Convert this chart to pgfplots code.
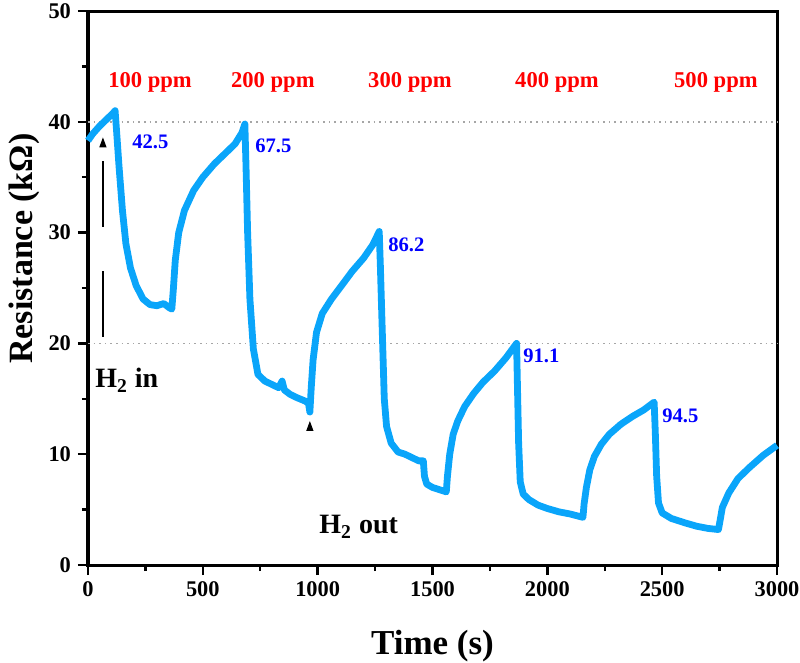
\documentclass[border=0pt]{standalone}
\usepackage{pgfplots}
\pgfplotsset{compat=1.18}
\usepackage{fontspec}
\setmainfont{Liberation Serif}
\usetikzlibrary{arrows.meta}
\definecolor{curve}{RGB}{10,165,250}
\definecolor{ppmred}{RGB}{255,0,0}
\definecolor{valblue}{RGB}{0,0,255}
\begin{document}
\begin{tikzpicture}
\begin{axis}[
  scale only axis, width=344.5pt, height=277pt,
  xmin=0, xmax=3000, ymin=0, ymax=50,
  xtick={0,500,...,3000}, ytick={0,10,...,50},
  minor x tick num=1, minor y tick num=1,
  tick align=outside, tick pos=left,
  major tick length=5pt, minor tick length=3pt,
  axis line style={line width=1.5pt},
  every tick/.style={line width=1.2pt, black},
  ticklabel style={font=\bfseries\fontsize{11.2}{12}\selectfont},
  /pgf/number format/assume math mode=true,
  /pgf/number format/1000 sep={},
  xlabel={Time (s)}, ylabel={Resistance (kΩ)},
  x label style={font=\bfseries\fontsize{17.5}{20}\selectfont, at={(axis description cs:0.5,0)}, anchor=base, yshift=-44.5pt},
  y label style={font=\bfseries\fontsize{17}{20}\selectfont, at={(axis description cs:0,0.571)}, anchor=base, yshift=27.5pt},
  clip=false,
]
% reference grid lines
\addplot[gray!70, dotted, line width=0.8pt] coordinates {(0,20) (3000,20)};
\addplot[gray!70, dotted, line width=0.8pt] coordinates {(0,40) (3000,40)};
% sensor response
\addplot[curve, line width=3.4pt, line join=round] coordinates {
(0,38.3) (20,38.9) (50,39.6) (80,40.2) (110,40.8) (118,41.0)
(125,39) (135,36) (150,32) (165,29) (185,26.8) (210,25.2) (240,24.0) (270,23.5) (300,23.4) (330,23.6) (355,23.2) (365,23.1)
(372,25) (380,27.5) (395,30) (420,32) (460,33.8) (500,35) (550,36.2) (600,37.2) (640,38.0) (670,39.0) (683,39.8)
(688,36) (695,30) (705,24) (720,19.5) (740,17.2) (770,16.6) (800,16.3) (830,16.0) (845,16.6) (855,15.8) (880,15.4) (910,15.1) (945,14.8) (960,14.6) (966,13.8)
(972,16) (980,18.5) (995,21) (1020,22.7) (1060,24.0) (1100,25.1) (1150,26.5) (1200,27.7) (1240,28.9) (1268,30.1)
(1273,27) (1280,22) (1290,15) (1300,12.5) (1320,11) (1350,10.2) (1380,10.0) (1400,9.8) (1420,9.6) (1440,9.4) (1460,9.4) (1465,8.0) (1475,7.3) (1500,7.0) (1530,6.8) (1560,6.6)
(1565,8) (1575,10) (1590,11.8) (1610,13) (1640,14.3) (1680,15.5) (1720,16.5) (1770,17.5) (1820,18.7) (1866,20.0)
(1870,16) (1875,11) (1882,7.5) (1895,6.4) (1920,5.9) (1960,5.4) (2000,5.1) (2050,4.8) (2100,4.6) (2155,4.3)
(2160,5.5) (2170,7) (2185,8.6) (2205,9.8) (2235,10.9) (2270,11.8) (2320,12.7) (2370,13.4) (2420,14.0) (2465,14.7)
(2470,12) (2476,8) (2484,5.6) (2500,4.7) (2540,4.2) (2600,3.8) (2650,3.5) (2700,3.3) (2745,3.2)
(2752,4) (2762,5.2) (2790,6.5) (2830,7.8) (2880,8.8) (2940,9.9) (3000,10.8)
};
% concentration labels
\begin{scope}[every node/.style={font=\bfseries\fontsize{11.3}{13}\selectfont, text=ppmred, anchor=base, inner sep=0pt}]
\node at (axis cs:270,43.1) {100 ppm};
\node at (axis cs:805,43.1) {200 ppm};
\node at (axis cs:1402,43.1) {300 ppm};
\node at (axis cs:2042,43.1) {400 ppm};
\node at (axis cs:2734,43.1) {500 ppm};
\end{scope}
% response values
\begin{scope}[every node/.style={font=\bfseries\fontsize{10.3}{12}\selectfont, text=valblue, anchor=base west, inner sep=0pt}]
\node at (axis cs:191,37.6) {42.5};
\node at (axis cs:727,37.2) {67.5};
\node at (axis cs:1306,28.3) {86.2};
\node at (axis cs:1894,18.3) {91.1};
\node at (axis cs:2499,12.9) {94.5};
\end{scope}
% gas in / out annotations
\draw[black, line width=0.6pt, dash pattern=on 33pt off 22pt, -{Triangle[length=5pt,width=3.5pt]}] (axis cs:65,20.6) -- (axis cs:65,38.6);
\draw[black, line width=0.6pt, -{Triangle[length=5pt,width=3.5pt]}] (axis cs:966,12.3) -- (axis cs:966,13.0);
\node[font=\bfseries\fontsize{14}{16}\selectfont, anchor=base west, inner sep=0pt] at (axis cs:30,16.0) {H\textsubscript{2} in};
\node[font=\bfseries\fontsize{14}{16}\selectfont, anchor=base west, inner sep=0pt] at (axis cs:1006,2.8) {H\textsubscript{2} out};
\end{axis}
\pgfresetboundingbox
\path[use as bounding box] ([xshift=-44pt,yshift=-48.5pt]current axis.south west) rectangle ([xshift=11.5pt,yshift=5.5pt]current axis.north east);
\end{tikzpicture}
\end{document}
